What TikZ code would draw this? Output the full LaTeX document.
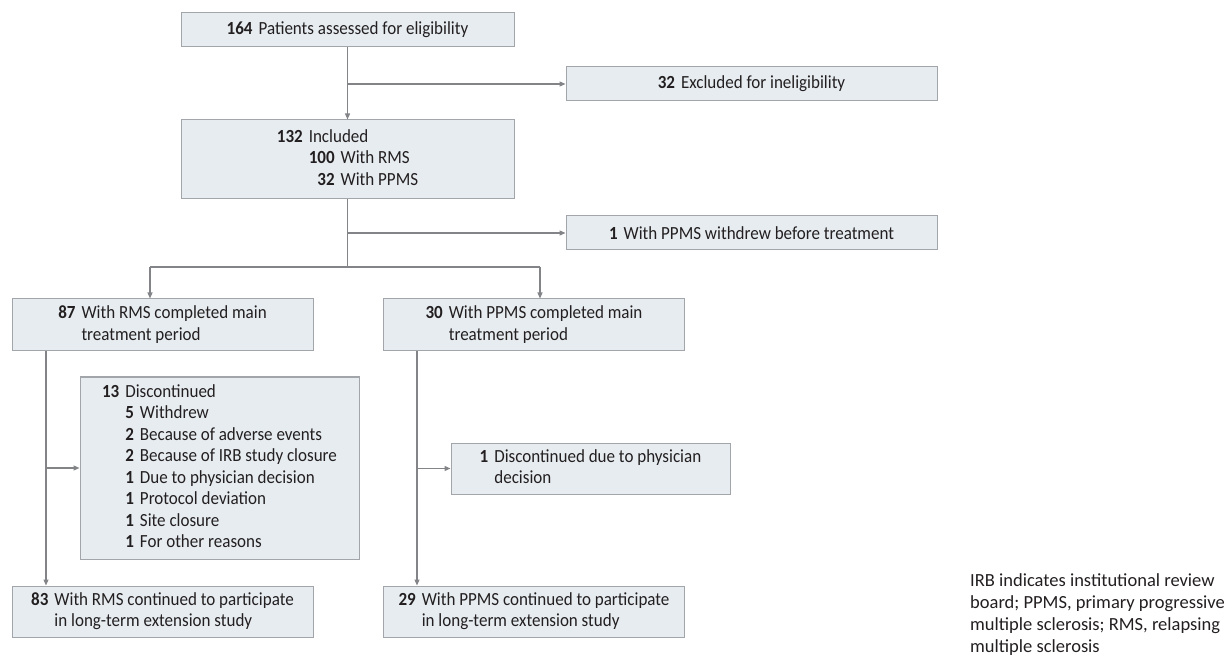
\documentclass[tikz,border=0pt]{standalone}
\usepackage{fontspec}
\setmainfont{Carlito}[FakeStretch=0.92]
\newfontfamily\notefont{Carlito}
\usepackage{xcolor}
\usepackage{tikz}
\usetikzlibrary{arrows.meta, positioning, calc}
\definecolor{boxfill}{RGB}{230, 236, 240}
\definecolor{boxline}{RGB}{162, 166, 170}
\definecolor{flowline}{RGB}{130, 132, 135}
\definecolor{textdark}{RGB}{35, 31, 32}
\newcommand{\cnt}[1]{\textbf{#1}}
\newcommand{\entry}[3]{\begin{tabular}{@{}r@{\hspace{6pt}}l@{}}\cnt{#1} & #2\\ & #3\end{tabular}}

\begin{document}
\begin{tikzpicture}[
    x=1pt, y=-1pt,
    font=\fontsize{18.5}{21.5}\selectfont, text=textdark,
    flowbox/.style={draw=boxline, fill=boxfill, line width=1pt, inner sep=0pt, align=center},
    wide/.style={flowbox, minimum width=333pt},
    side/.style={flowbox, minimum width=371pt, minimum height=34pt},
    arm/.style={flowbox, minimum width=301pt, minimum height=52pt},
    link/.style={draw=flowline, line width=1.2pt, -{Triangle[length=6pt, width=5pt]}},
    plain/.style={draw=flowline, line width=1.2pt}
]
    \useasboundingbox (0,0) rectangle (1232,660);

    \node[wide, minimum height=34pt] (assessed) at (347.5,30) {\cnt{164}\hspace{6pt}Patients assessed for eligibility};
    \node[side] (excluded) at (751.5,84) {\cnt{32}\hspace{6pt}Excluded for ineligibility};
    \node[wide, minimum height=79pt] (included) at (347.5,159.5)
        {\begin{tabular}{@{}r@{\hspace{6pt}}l@{}}
            \cnt{132} & Included\\
            & \begin{tabular}[t]{@{}r@{\hspace{6pt}}l@{}}\cnt{100} & With RMS\\ \cnt{32} & With PPMS\end{tabular}
         \end{tabular}};
    \node[side] (withdrew) at (751.5,233) {\cnt{1}\hspace{6pt}With PPMS withdrew before treatment};

    \node[arm] (rmsmain) at (162.5,325) {\entry{87}{With RMS completed main}{treatment period}};
    \node[arm] (ppmsmain) at (534,325) {\entry{30}{With PPMS completed main}{treatment period}};

    \node[flowbox, minimum width=279pt, minimum height=182pt] (rmsdisc) at (219.5,468)
        {\begin{tabular}{@{}r@{\hspace{6pt}}l@{}}
            \cnt{13} & Discontinued\\
            & \begin{tabular}[t]{@{}r@{\hspace{6pt}}l@{}}
                \cnt{5} & Withdrew\\
                \cnt{2} & Because of adverse events\\
                \cnt{2} & Because of IRB study closure\\
                \cnt{1} & Due to physician decision\\
                \cnt{1} & Protocol deviation\\
                \cnt{1} & Site closure\\
                \cnt{1} & For other reasons
              \end{tabular}
         \end{tabular}};
    \node[flowbox, minimum width=279pt, minimum height=51pt] (ppmsdisc) at (590.5,468.5)
        {\entry{1}{Discontinued due to physician}{decision}};

    \node[arm, minimum height=51pt] (rmsext) at (162.5,611.5) {\entry{83}{With RMS continued to participate}{in long-term extension study}};
    \node[arm, minimum height=51pt] (ppmsext) at (534,611.5) {\entry{29}{With PPMS continued to participate}{in long-term extension study}};

    \node[anchor=base west, inner sep=0pt, font=\notefont\fontsize{18.5}{22}\selectfont] (note) at (970,586)
        {\begin{tabular}[t]{@{}l@{}}IRB indicates institutional review\\board; PPMS, primary progressive\\multiple sclerosis; RMS, relapsing\\multiple sclerosis\end{tabular}};

    \draw[link] (assessed) -- (included);
    \draw[link] (assessed.south |- excluded.west) -- (excluded.west);
    \coordinate (fork) at (347.5,267);
    \coordinate (forkL) at (150,267);
    \coordinate (forkR) at (540,267);
    \draw[plain] (included) -- (fork);
    \draw[link] (included.south |- withdrew.west) -- (withdrew.west);
    \draw[plain] (forkL) -- (forkR);
    \draw[link] (forkL) -- (forkL |- rmsmain.north);
    \draw[link] (forkR) -- (forkR |- ppmsmain.north);

    \coordinate (rmsdrop) at (46,0);
    \coordinate (ppmsdrop) at (417,0);
    \draw[link] (rmsdrop |- rmsmain.south) -- (rmsdrop |- rmsext.north);
    \draw[link] (rmsdrop |- rmsdisc.west) -- (rmsdisc.west);
    \draw[link] (ppmsdrop |- ppmsmain.south) -- (ppmsdrop |- ppmsext.north);
    \draw[link] (ppmsdrop |- ppmsdisc.west) -- (ppmsdisc.west);
\end{tikzpicture}
\end{document}
